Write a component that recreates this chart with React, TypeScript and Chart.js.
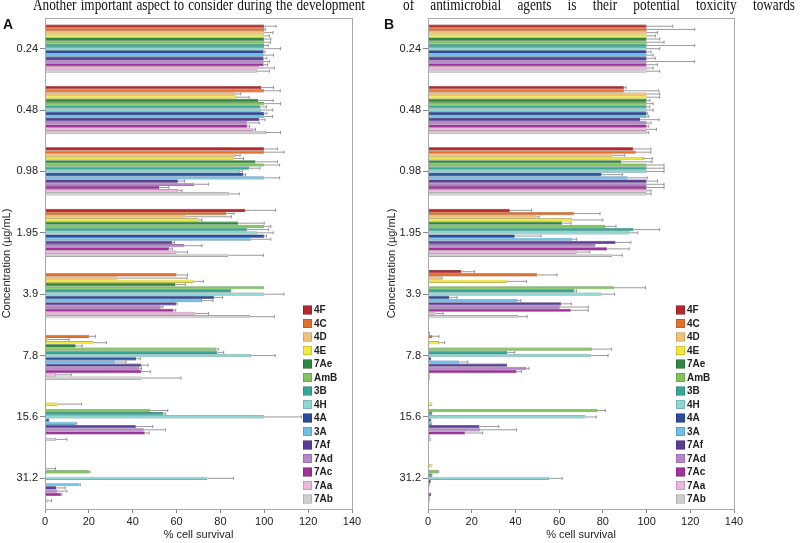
import React, { useEffect, useRef } from 'react';
import { Chart, registerables } from 'chart.js';

Chart.register(...registerables);

const CONCENTRATIONS = ['0.24', '0.48', '0.98', '1.95', '3.9', '7.8', '15.6', '31.2'];
const SERIES = ['4F', '4C', '4D', '4E', '7Ae', 'AmB', '3B', '4H', '4A', '3A', '7Af', '7Ad', '7Ac', '7Aa', '7Ab'];
const COLORS = ['#b5292d', '#e2712e', '#f1c27a', '#f2e93e', '#2f8840', '#7fc65c', '#37a896', '#8fd6d3', '#2c4d9e', '#6fc0e9', '#5a3c99', '#b786cd', '#a2309a', '#eeb6df', '#cfcfcf'];

// Panel A — values per concentration, in SERIES order
const A_024 = [100, 100, 100, 100, 100, 100, 100, 100, 99.7, 99.7, 99.7, 99.7, 99.7, 97.7, 96.6];
const A_048 = [98.5, 100, 86.5, 87.4, 97.2, 100, 98, 98.5, 100, 100, 97.7, 92.3, 92.3, 95, 100.8];
const A_098 = [100, 100, 87, 86, 96, 100, 93, 89, 90.5, 100, 60.6, 68, 52, 60.5, 84];
const A_195 = [91.4, 82.7, 64, 70, 88, 100, 92, 96.6, 100, 94, 58, 63.6, 56.6, 60, 83.6];
const A_39 = [0, 60, 32.7, 67.7, 59.3, 100, 85, 100, 77, 71.6, 59.8, 52.8, 58.6, 68.6, 93.6];
const A_78 = [0, 20, 1, 22, 14, 78, 78.5, 94, 41.5, 32, 44, 43, 44, 5, 44];
const A_156 = [0, 0, 0, 5.7, 0.5, 48, 54, 100, 2, 14, 41.4, 45, 45.5, 0.3, 5];
const A_312 = [0, 0, 0, 0, 0.3, 20, 0.5, 74, 0.3, 15.6, 5.2, 5.7, 7.2, 0.6, 1.5];

const A_024_ERR = [5.4, 0.5, 4, 2.3, 3, 2.8, 1.8, 7.4, 0.6, 4.5, 1.5, 2.6, 1.8, 6.9, 5.7];
const A_048_ERR = [5.7, 7.3, 2.8, 5.7, 6.9, 7.4, 3, 5.4, 1.2, 3.8, 2.6, 5.4, 1, 1, 6.6];
const A_098_ERR = [6, 9, 2, 4.5, 10, 7, 5, 1, 1, 7, 3, 6.5, 4.5, 2, 4.6];
const A_195_ERR = [13.7, 3.5, 21, 1.5, 12, 3, 10, 7.5, 1, 9, 1, 8, 1.5, 5, 16];
const A_39_ERR = [0, 5, 32, 4.5, 4.7, 0, 0, 9, 4, 5, 0.5, 1, 1, 6, 11];
const A_78_ERR = [0, 3, 10, 6, 3, 1, 3, 11, 2, 5, 3, 1, 4, 7, 18];
const A_156_ERR = [0, 0, 0, 11, 0, 8, 1, 17, 0, 0.5, 7.7, 10, 2, 0, 5];
const A_312_ERR = [0, 0, 0, 0, 4.5, 0.5, 0, 12, 0, 0.5, 4, 4.3, 0.5, 0, 1.5];

// Panel B — values per concentration, in SERIES order
const B_024 = [100, 100, 100, 100, 100, 100, 100, 100, 100, 100, 100, 100, 100, 100, 100];
const B_048 = [89.6, 89.6, 100, 100, 100, 100, 100, 100, 100, 100, 97, 100, 100, 100, 100];
const B_098 = [94, 95, 84.4, 98.8, 88.5, 100, 100, 100, 79.4, 91.3, 100, 100, 100, 100, 100];
const B_195 = [37.4, 66.7, 49.6, 66, 61.4, 81, 94, 92, 39.7, 66, 85.8, 76.6, 82, 68, 84.3];
const B_39 = [15.3, 50, 6, 36, 0.5, 85, 67, 79.4, 9.6, 41, 61, 60.3, 65.3, 3.4, 41.4];
const B_78 = [0.8, 2, 0.5, 5, 0.3, 75, 36.2, 74.4, 1.5, 14.2, 36.2, 45, 40.5, 1, 1];
const B_156 = [0, 0, 0, 2, 0, 77.6, 2, 72, 1.5, 2, 23.4, 24, 17, 1, 1.5];
const B_312 = [0, 0, 0, 2, 0, 4.6, 2, 55.4, 1.2, 1, 0.5, 0.5, 1.5, 1, 1];

const B_024_ERR = [12, 22, 5, 4, 6, 8, 22, 6, 2, 3, 4, 22, 5, 3, 6];
const B_048_ERR = [1, 16, 6, 6, 1.5, 3, 1.5, 3, 0.5, 1, 8.7, 2, 1, 4.5, 1];
const B_098_ERR = [8, 7, 5.6, 3.8, 14, 8, 8, 8, 9.5, 9, 5, 8, 8, 2, 2];
const B_195_ERR = [10, 12, 1.2, 14, 4, 5, 12, 4, 12, 2, 7, 0, 10, 6, 4.6];
const B_39_ERR = [6, 9, 0.5, 9, 0, 14.5, 1, 6, 3.7, 1.5, 4.6, 13, 8, 3.5, 4];
const B_78_ERR = [0, 3, 0, 2.6, 0, 9, 3.5, 8, 0, 4, 0, 1.2, 2.3, 0, 0];
const B_156_ERR = [0, 0, 0, 0, 0, 3.5, 0, 5, 0, 0, 9, 16.5, 8, 0, 0];
const B_312_ERR = [0, 0, 0, 0, 0, 0.3, 0, 6, 0, 0, 0, 0, 0, 0, 0];

const A_ROWS = [A_024, A_048, A_098, A_195, A_39, A_78, A_156, A_312];
const A_ERR_ROWS = [A_024_ERR, A_048_ERR, A_098_ERR, A_195_ERR, A_39_ERR, A_78_ERR, A_156_ERR, A_312_ERR];
const B_ROWS = [B_024, B_048, B_098, B_195, B_39, B_78, B_156, B_312];
const B_ERR_ROWS = [B_024_ERR, B_048_ERR, B_098_ERR, B_195_ERR, B_39_ERR, B_78_ERR, B_156_ERR, B_312_ERR];

const FONT = "'Liberation Sans', Arial, Helvetica, sans-serif";

function darken(hex: string, f: number) {
  const n = parseInt(hex.slice(1), 16);
  const r = Math.round(((n >> 16) & 255) * f);
  const g = Math.round(((n >> 8) & 255) * f);
  const b = Math.round((n & 255) * f);
  return `rgb(${r},${g},${b})`;
}

const errorBarPlugin = {
  id: 'errorBars',
  afterDatasetsDraw(chart: any) {
    const ctx = chart.ctx;
    const xs = chart.scales.x;
    ctx.save();
    ctx.strokeStyle = '#808080';
    ctx.lineWidth = 0.8;
    chart.data.datasets.forEach((ds: any, di: number) => {
      const meta = chart.getDatasetMeta(di);
      meta.data.forEach((bar: any, j: number) => {
        const e = ds.errors[j];
        if (!e) return;
        const v = ds.data[j];
        const x0 = xs.getPixelForValue(v);
        const x1 = xs.getPixelForValue(v + e);
        const y = bar.y;
        const h = bar.height;
        ctx.beginPath();
        ctx.moveTo(x0, y);
        ctx.lineTo(x1, y);
        ctx.moveTo(x1, y - h / 2);
        ctx.lineTo(x1, y + h / 2);
        ctx.stroke();
      });
    });
    ctx.restore();
  },
};

const framePlugin = {
  id: 'frame',
  afterDraw(chart: any) {
    const { ctx, chartArea } = chart;
    ctx.save();
    ctx.strokeStyle = '#a8a8a8';
    ctx.lineWidth = 1;
    ctx.strokeRect(Math.round(chartArea.left) + 0.5, Math.round(chartArea.top) + 0.5,
      Math.round(chartArea.right - chartArea.left), Math.round(chartArea.bottom - chartArea.top));
    ctx.restore();
  },
};

const boxLegendPlugin = {
  id: 'boxLegend',
  afterDraw(chart: any, _args: any, opts: any) {
    const ctx = chart.ctx;
    ctx.save();
    ctx.font = `bold 10px ${FONT}`;
    ctx.textBaseline = 'middle';
    chart.data.datasets.forEach((ds: any, i: number) => {
      const y = opts.y + i * opts.step;
      ctx.fillStyle = ds.backgroundColor;
      ctx.fillRect(opts.x, y - 4.5, 9, 9);
      ctx.strokeStyle = 'rgba(0,0,0,0.25)';
      ctx.lineWidth = 0.6;
      ctx.strokeRect(opts.x + 0.3, y - 4.2, 8.4, 8.4);
      ctx.fillStyle = '#222';
      ctx.fillText(ds.label, opts.x + 11, y + 0.5);
    });
    ctx.restore();
  },
};

type PanelProps = {
  left: number;
  width: number;
  rows: number[][];
  errRows: number[][];
  yWidth: number;
  padRight: number;
  legendX: number;
};

function Panel({ left, width, rows, errRows, yWidth, padRight, legendX }: PanelProps) {
  const ref = useRef<HTMLCanvasElement | null>(null);
  useEffect(() => {
    if (!ref.current) return;
    const datasets = SERIES.map((s, i) => ({
      label: s,
      data: rows.map((r) => r[i]),
      errors: errRows.map((r) => r[i]),
      backgroundColor: COLORS[i],
      borderColor: darken(COLORS[i], 0.6),
      borderWidth: 0.6,
      categoryPercentage: 0.785,
      barPercentage: 1,
    }));
    const chart = new Chart(ref.current, {
      type: 'bar',
      data: { labels: CONCENTRATIONS, datasets: datasets as any },
      options: {
        indexAxis: 'y',
        animation: false,
        responsive: false,
        maintainAspectRatio: false,
        devicePixelRatio: 1,
        layout: { padding: { left: 0, top: 18, right: padRight, bottom: 0 } },
        plugins: {
          legend: { display: false },
          tooltip: { enabled: false },
          boxLegend: { x: legendX, y: 310, step: 13.5 },
        } as any,
        scales: {
          x: {
            min: 0,
            max: 140,
            ticks: { stepSize: 20, color: '#222', font: { family: FONT, size: 11 }, padding: 2 },
            grid: { drawOnChartArea: false, drawTicks: true, tickLength: 4, color: '#888' },
            border: { color: '#a8a8a8' },
            title: { display: true, text: '% cell survival', color: '#222', font: { family: FONT, size: 11 }, padding: { top: 0, bottom: 1 } },
            afterFit: (s: any) => { s.height = 34; },
          } as any,
          y: {
            type: 'category',
            offset: true,
            ticks: { color: '#222', font: { family: FONT, size: 11 }, padding: 2 },
            grid: { offset: false, drawOnChartArea: false, drawTicks: true, tickLength: 5, color: '#888' },
            border: { color: '#a8a8a8' },
            title: { display: true, text: 'Concentration (µg/mL)', color: '#222', font: { family: FONT, size: 11 }, padding: { top: 0, bottom: 0 } },
            afterFit: (s: any) => { s.width = yWidth; },
          } as any,
        },
      },
      plugins: [errorBarPlugin, framePlugin, boxLegendPlugin],
    });
    return () => chart.destroy();
  }, []);
  return (
    <canvas
      ref={ref}
      width={width}
      height={543}
      style={{ position: 'absolute', left, top: 0, width, height: 543 }}
    />
  );
}

export default function App() {
  const serif = "'Liberation Serif', 'Times New Roman', serif";
  const textBase: React.CSSProperties = {
    position: 'absolute',
    top: -3,
    fontFamily: serif,
    fontSize: 16,
    lineHeight: '16px',
    color: '#111',
    textAlign: 'justify',
    textAlignLast: 'justify' as any,
    transformOrigin: 'left top',
    transform: 'scaleX(0.83)',
    whiteSpace: 'normal',
  };
  const label: React.CSSProperties = {
    position: 'absolute',
    top: 17,
    fontFamily: FONT,
    fontWeight: 'bold',
    fontSize: 14,
    lineHeight: '14px',
    color: '#111',
  };
  return (
    <div style={{ position: 'absolute', left: 0, top: 0, width: 800, height: 543, overflow: 'hidden', background: '#fff' }}>
      <Panel left={0} width={385} rows={A_ROWS} errRows={A_ERR_ROWS} yWidth={45} padRight={33} legendX={303} />
      <Panel left={385} width={415} rows={B_ROWS} errRows={B_ERR_ROWS} yWidth={43} padRight={66} legendX={291} />
      <div style={{ ...textBase, left: 33, width: 332 / 0.83 }}>
        Another important aspect to consider during the development
      </div>
      <div style={{ ...textBase, left: 403, width: 392 / 0.83 }}>
        of antimicrobial agents is their potential toxicity towards
      </div>
      <div style={{ ...label, left: 3 }}>A</div>
      <div style={{ ...label, left: 384 }}>B</div>
    </div>
  );
}
